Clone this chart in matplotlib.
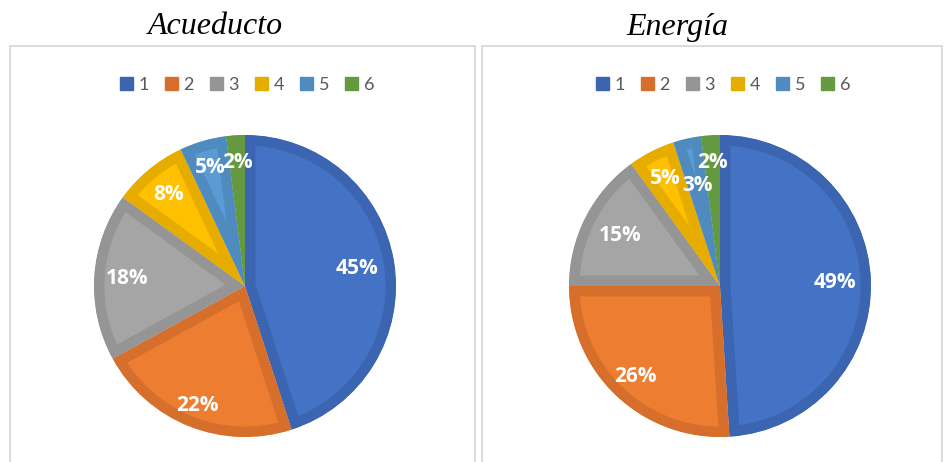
import matplotlib
matplotlib.use('Agg')
import matplotlib.pyplot as plt
from matplotlib.patches import Rectangle, Patch
import numpy as np

# data
categories = ['1', '2', '3', '4', '5', '6']
acueducto = [45, 22, 18, 8, 5, 2]
energia = [49, 26, 15, 5, 3, 2]
titles = ['Acueducto', 'Energía']

fill_colors = ['#4472C4', '#ED7D31', '#A5A5A5', '#FFC000', '#5B9BD5', '#70AD47']
edge_colors = ['#3C65B1', '#D56F2B', '#959595', '#E6AD00', '#508BC0', '#64993F']

# radial position of each percentage label (fraction of radius)
label_dist = [
    [0.75, 0.85, 0.78, 0.79, 0.82, 0.82],
    [0.76, 0.82, 0.74, 0.80, 0.68, 0.82],
]

W, H = 944, 462
fig = plt.figure(figsize=(W / 100, H / 100), dpi=100)


def frac(x0, y0, x1, y1):
    # pixel box (top-left origin) -> figure fraction rect
    return [x0 / W, 1 - y1 / H, (x1 - x0) / W, (y1 - y0) / H]


# panel frames, open at the bottom edge of the picture
for x0, x1 in [(10, 475), (482, 942)]:
    fig.add_artist(Rectangle((x0 / W, -0.05), (x1 - x0) / W, 1 - 46 / H + 0.05,
                             transform=fig.transFigure, fill=False,
                             ec='#d9d9d9', lw=1.3))

panels = [
    (acueducto, 245, 215, 247),
    (energia, 720, 677, 723),
]
r = 151

for (vals, cx, tx, lx), title, dists in zip(panels, titles, label_dist):
    ax = fig.add_axes(frac(cx - r, 286 - r, cx + r, 286 + r))
    wedges, texts, autotexts = ax.pie(
        vals, colors=fill_colors, startangle=90, counterclock=False,
        autopct=lambda p: f'{p:.0f}%', pctdistance=1.0,
        wedgeprops=dict(linewidth=15, joinstyle='miter'),
        textprops=dict(color='white', fontweight='bold', fontsize=15, family='Open Sans'))
    for w, ec in zip(wedges, edge_colors):
        w.set_edgecolor(ec)
        w.set_clip_path(w)
        w.set_clip_on(True)
    # autopct texts were placed at pctdistance=1 -> scale to wanted distance
    for t, d in zip(autotexts, dists):
        x, y = t.get_position()
        t.set_position((x * d, y * d))
    ax.set_xlim(-1, 1)
    ax.set_ylim(-1, 1)
    ax.set_aspect('equal')

    fig.text(tx / W, 1 - 27 / H, title, ha='center', va='center',
             family='Liberation Serif', style='italic', fontsize=23)

    handles = [Patch(facecolor=c, edgecolor=c) for c in edge_colors]
    fig.legend(handles, categories, loc='center', bbox_to_anchor=(lx / W, 1 - 85 / H),
               ncol=6, frameon=False, handlelength=0.72, handleheight=0.72,
               handletextpad=0.3, columnspacing=0.9,
               prop=dict(family='Lato', size=13), labelcolor='#595959')

fig.savefig('out.png', dpi=100)
